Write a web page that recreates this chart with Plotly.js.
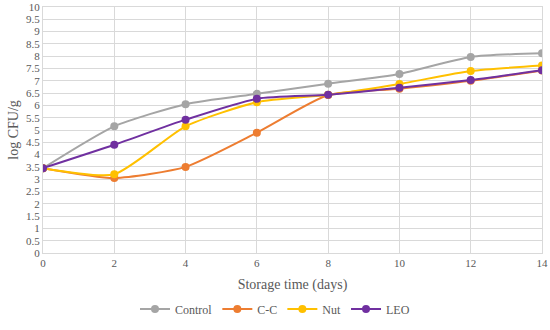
<!DOCTYPE html>
<html>
<head>
<meta charset="utf-8">
<script src="https://cdn.plot.ly/plotly-3.0.1.min.js"></script>
<style>html,body{margin:0;padding:0;background:#fff;}#chart{width:550px;height:330px;}</style>
</head>
<body>
<div id="chart"></div>
<script>
const days = [0, 2, 4, 6, 8, 10, 12, 14];
const control = [3.45, 5.15, 6.05, 6.47, 6.88, 7.28, 7.97, 8.12];
const cc = [3.45, 3.05, 3.5, 4.89, 6.42, 6.68, 7.0, 7.42];
const nut = [3.45, 3.2, 5.15, 6.13, 6.43, 6.87, 7.4, 7.62];
const leo = [3.45, 4.4, 5.42, 6.27, 6.43, 6.72, 7.03, 7.43];
const names = ["Control", "C-C", "Nut", "LEO"];
const colors = ["#A5A5A5", "#ED7D31", "#FFC000", "#7030A0"];
const series = [control, cc, nut, leo];

const traces = series.map((s, i) => ({
  x: days, y: s, name: names[i], type: "scatter", mode: "lines+markers",
  line: {color: colors[i], width: 2, shape: "spline", smoothing: 0.6},
  marker: {color: colors[i], size: 8}
}));

const serif = "Liberation Serif";
const tickFont = {family: serif, size: 11, color: "#595959"};
Plotly.newPlot("chart", traces, {
  width: 550, height: 330,
  margin: {l: 43, r: 8, t: 7, b: 77, autoexpand: false},
  paper_bgcolor: "#fff", plot_bgcolor: "#fff",
  font: {family: serif, size: 11, color: "#595959"},
  xaxis: {
    range: [0, 14], tickvals: days, showgrid: true, gridcolor: "#D9D9D9", gridwidth: 1,
    zeroline: false, showline: true, linecolor: "#D9D9D9", mirror: true,
    tickfont: tickFont, ticks: "", automargin: false,
    title: {text: "Storage time (days)", font: {family: serif, size: 14, color: "#595959"}, standoff: 10}
  },
  yaxis: {
    range: [0, 10], dtick: 0.5, showgrid: true, gridcolor: "#D9D9D9", gridwidth: 1,
    zeroline: false, showline: true, linecolor: "#D9D9D9", mirror: true,
    tickfont: tickFont, ticks: "", automargin: false,
    title: {text: "log CFU/g", font: {family: serif, size: 14, color: "#595959"}, standoff: 4}
  },
  legend: {orientation: "h", xref: "container", x: 0.5, xanchor: "center", yref: "container", y: 0.02, yanchor: "bottom",
    font: {family: serif, size: 12, color: "#595959"}},
  showlegend: true
}, {displayModeBar: false, staticPlot: true});
</script>
</body>
</html>
